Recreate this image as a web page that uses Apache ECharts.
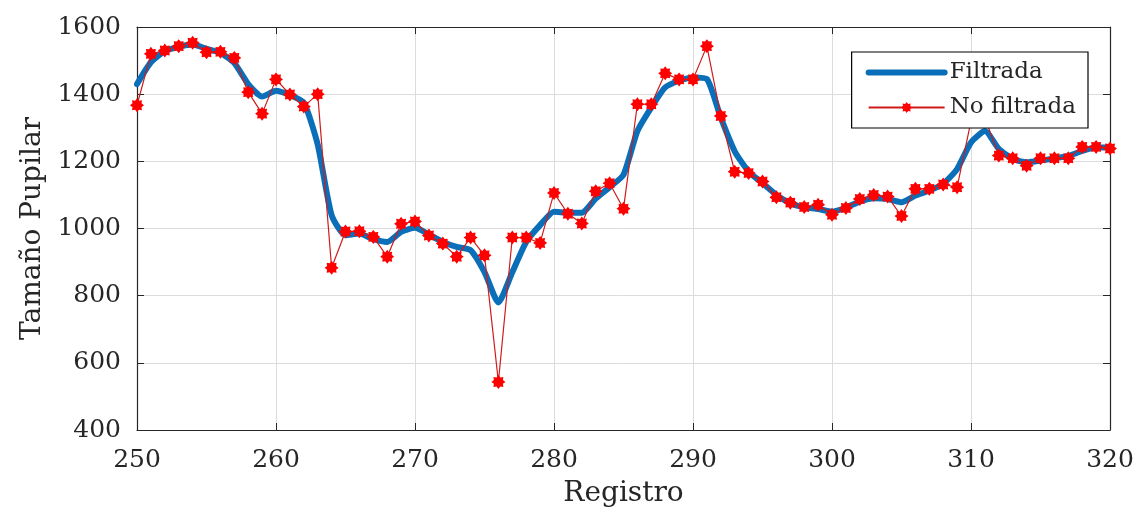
<!DOCTYPE html>
<html><head><meta charset="utf-8">
<script src="https://cdn.jsdelivr.net/npm/echarts@6/dist/echarts.min.js"></script>
<style>html,body{margin:0;padding:0;background:#fff}#c{width:1139px;height:515px}</style>
</head><body><div id="c"></div>
<script>
const registros = [250,251,252,253,254,255,256,257,258,259,260,261,262,263,264,265,266,267,268,269,270,271,272,273,274,275,276,277,278,279,280,281,282,283,284,285,286,287,288,289,290,291,292,293,294,295,296,297,298,299,300,301,302,303,304,305,306,307,308,309,310,311,312,313,314,315,316,317,318,319,320];
const noFiltrada = [1367,1520,1530,1543,1553,1525,1526,1508,1406,1342,1444,1399,1363,1400,883,991,992,975,916,1014,1021,979,955,916,973,920,543,973,973,957,1106,1044,1015,1111,1135,1059,1370,1370,1462,1444,1444,1543,1335,1169,1165,1140,1093,1077,1064,1071,1041,1061,1088,1100,1095,1037,1118,1118,1131,1123,1320,1330,1217,1209,1187,1209,1209,1209,1243,1243,1238];
const filtrada = [1430,1495,1528,1541,1548,1535,1523,1493,1430,1393,1410,1397,1375,1250,1040,980,985,968,960,990,1002,982,960,945,935,870,780,870,960,1010,1050,1047,1047,1089,1123,1160,1290,1360,1420,1440,1450,1445,1330,1230,1170,1135,1100,1075,1063,1058,1050,1062,1080,1090,1088,1078,1098,1113,1133,1177,1256,1290,1237,1207,1197,1202,1209,1216,1231,1241,1241];
const xTicks = [250,260,270,280,290,300,310,320];
const yTicks = [400,600,800,1000,1200,1400,1600];

const star = 'path://M100,50 L82.3,63.4 L85.4,85.4 L63.4,82.3 L50,100 L36.6,82.3 L14.6,85.4 L17.7,63.4 L0,50 L17.7,36.6 L14.6,14.6 L36.6,17.7 L50,0 L63.4,17.7 L85.4,14.6 L82.3,36.6 Z';
const font = 'DejaVu Serif';
const chart = echarts.init(document.getElementById('c'), null, {renderer:'canvas'});
const axisCommon = {
  axisLine:{show:true,onZero:false,lineStyle:{color:'#262626',width:1.2}},
  axisTick:{show:true,inside:true,length:7,lineStyle:{color:'#262626'}},
};
chart.setOption({
  animation:false,
  backgroundColor:'#fff',
  grid:{left:137,right:29,top:27,bottom:85,containLabel:false},
  legend:{
    orient:'vertical', right:51, top:52,
    backgroundColor:'#fff', borderColor:'#000', borderWidth:1.2, borderRadius:0,
    padding:[9,12,9,14], itemGap:12, itemWidth:76, itemHeight:14,
    textStyle:{fontFamily:font,fontSize:23,color:'#262626'},
    data:[
      {name:'Filtrada', itemStyle:{opacity:0}, lineStyle:{width:6,color:'#0a6fb8'}},
      {name:'No filtrada'}
    ]
  },
  xAxis:[
    Object.assign({type:'value',min:xTicks[0],max:xTicks[xTicks.length-1],interval:10,
      name:'Registro',nameLocation:'middle',nameGap:50,
      nameTextStyle:{fontFamily:font,fontSize:28,color:'#262626'},
      axisLabel:{fontFamily:font,fontSize:25,color:'#262626',margin:18,formatter:v=>String(v)},
      splitLine:{show:true,lineStyle:{color:'#dcdcdc',width:1}}},axisCommon),
    Object.assign({type:'value',position:'top',min:250,max:320,interval:10,
      axisLabel:{show:false},splitLine:{show:false}},axisCommon)
  ],
  yAxis:[
    Object.assign({type:'value',min:yTicks[0],max:yTicks[yTicks.length-1],interval:200,
      name:'Tamaño Pupilar',nameLocation:'middle',nameGap:86,
      nameTextStyle:{fontFamily:font,fontSize:28,color:'#262626'},
      axisLabel:{fontFamily:font,fontSize:25,color:'#262626',margin:16,formatter:v=>String(v)},
      splitLine:{show:true,lineStyle:{color:'#dcdcdc',width:1}}},axisCommon),
    Object.assign({type:'value',position:'right',min:400,max:1600,interval:200,
      axisLabel:{show:false},splitLine:{show:false}},axisCommon)
  ],
  series:[
    {name:'Filtrada',type:'line',data:registros.map((x,i)=>[x,filtrada[i]]),
     showSymbol:false,symbol:'none',smooth:0.2,
     lineStyle:{color:'#0a6fb8',width:6,cap:'round',join:'round'},
     itemStyle:{color:'#0a6fb8'},z:2},
    {name:'No filtrada',type:'line',data:registros.map((x,i)=>[x,noFiltrada[i]]),
     symbol:star,symbolSize:14,
     lineStyle:{color:'#d01a1a',width:1.2},
     itemStyle:{color:'#ff0000',borderWidth:0},z:3}
  ]
});
</script></body></html>
